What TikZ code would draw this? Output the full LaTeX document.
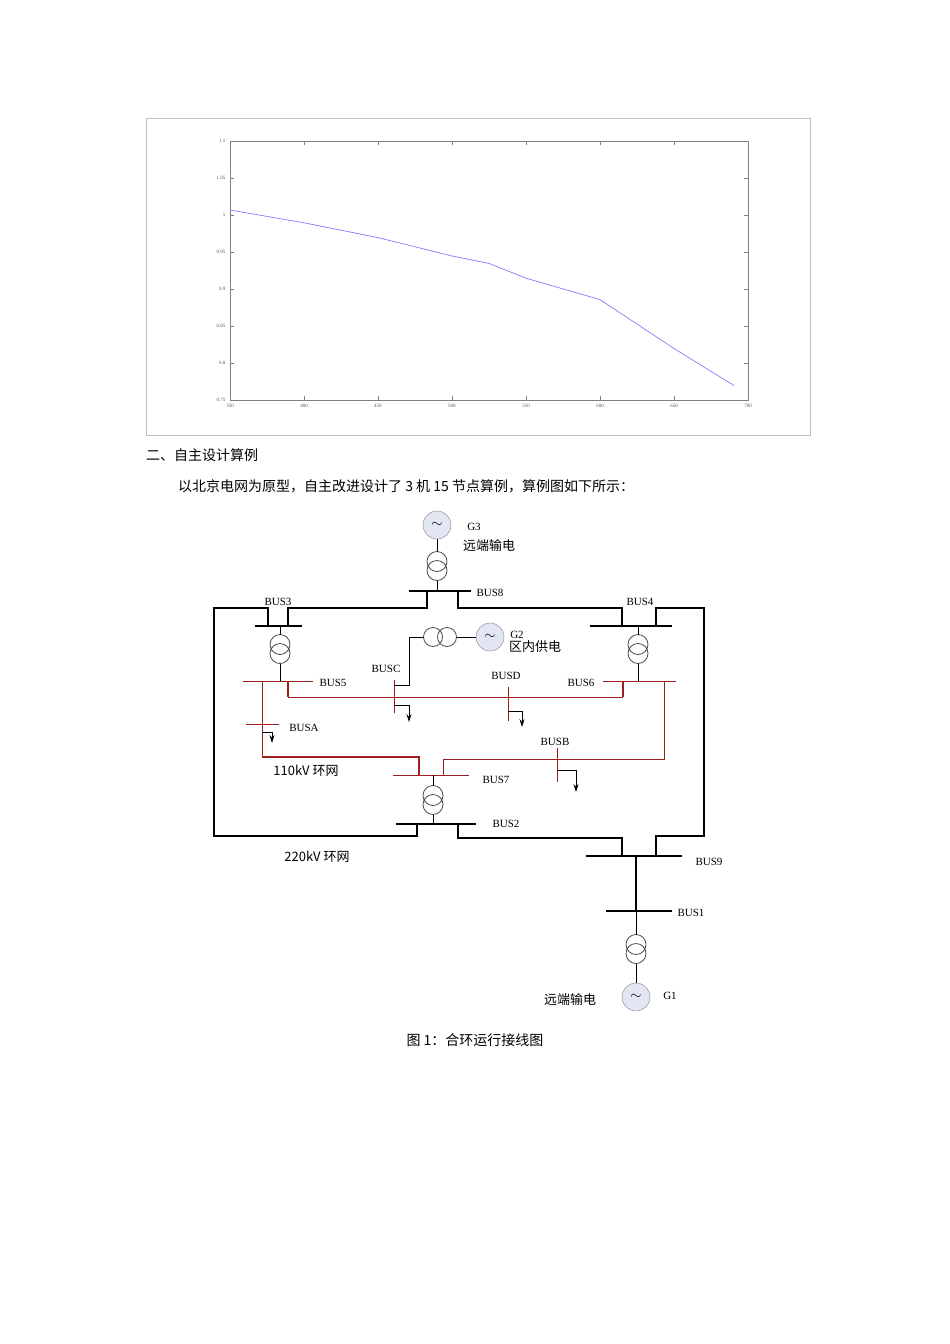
\documentclass[tikz,border=0pt]{standalone}
\usepackage{fontspec}
\setmainfont{Liberation Serif}
\newfontfamily\cjk{Noto Sans CJK SC}
\usetikzlibrary{arrows.meta}
\definecolor{dred}{RGB}{160,30,30}
\definecolor{gfill}{RGB}{225,230,242}
\tikzset{
 thickw/.style={line width=2.2pt,black},
 bar/.style={line width=2.4pt,black},
 rbar/.style={line width=1pt,dred},
 rline/.style={line width=1pt,dred},
 thin/.style={line width=0.8pt,black},
 gen/.style={circle,draw=gray,fill=gfill,minimum size=28pt,inner sep=0pt,font=\Large},
 lbl/.style={font=\fontsize{11}{11}\selectfont,inner sep=1pt},
 clbl/.style={font=\cjk\fontsize{13}{13}\selectfont,inner sep=1pt},
 ld/.style={thin,-{Stealth[length=8pt,width=5pt]}},
}
\begin{document}
\begin{tikzpicture}[x=1pt,y=-1pt]
\fill[white] (0,0) rectangle (950,1344);
\useasboundingbox (0,0) rectangle (950,1344);
% plot
\draw[gray!50] (146,118) rectangle (810,435);
\draw[gray,line width=0.5pt] (230,141) rectangle (748,400);
\foreach \v in {350,400,450,500,550,600,650,700}{
  \pgfmathsetmacro{\xx}{230+(\v-350)/350*518}
  \draw[gray] (\xx,400)--(\xx,396) (\xx,141)--(\xx,145);
  \node[font=\fontsize{5}{5}\selectfont,gray!70!black] at (\xx,406) {\v};}
\foreach \v in {1.1,1.05,1,0.95,0.9,0.85,0.8,0.75}{
  \pgfmathsetmacro{\yy}{400-(\v-0.75)/0.35*259}
  \draw[gray] (230,\yy)--(234,\yy) (748,\yy)--(744,\yy);
  \node[font=\fontsize{5}{5}\selectfont,gray!70!black,anchor=east] at (229,\yy) {\v};}
\draw[blue!50,line width=0.7pt] plot coordinates {(230,210)(304,222.8)(378,237.6)(452,256)(489,263.4)(526,278.2)(600,299.6)(674,348.5)(734,385.5)};
% texts
\node[anchor=west,font=\cjk\fontsize{14}{14}\selectfont,inner sep=0] at (146,455) {二、自主设计算例};
\node[anchor=west,font=\cjk\fontsize{14}{14}\selectfont,inner sep=0] at (178,486) {以北京电网为原型，自主改进设计了 3 机 15 节点算例，算例图如下所示：};
\node[font=\cjk\fontsize{14}{14}\selectfont,inner sep=0] at (475,1040) {图 1：合环运行接线图};
% generators and transformers
\node[gen] (g3) at (437,525) {$\sim$};
\node[gen] (g2) at (490,637) {$\sim$};
\node[gen] (g1) at (636,997) {$\sim$};
\foreach \n/\x/\y in {t3/437/566,tb3/280/649,tb4/638/649,t7/433/800,t1/636/949}{
  \draw[gray!60!black,line width=0.8pt] (\x,\y-4.5) circle (10) (\x,\y+4.5) circle (10);
  \coordinate (\n-top) at (\x,\y-14.5); \coordinate (\n-bot) at (\x,\y+14.5);}
\draw[gray!60!black,line width=0.8pt] (433,637) circle (9.5) (447,637) circle (9.5);
\coordinate (t2l) at (423.5,637); \coordinate (t2r) at (456.5,637);
% buses
\draw[bar] (409,591) -- (471,591);
\draw[bar] (255,626) -- (302,626);
\draw[bar] (590,626) -- (672,626);
\draw[bar] (396,824) -- (476,824);
\draw[bar] (586,856) -- (682,856);
\draw[bar] (606,911) -- (672,911);
\draw[rbar] (243,681) -- (313,681);
\draw[rbar] (603,681) -- (676,681);
\draw[rbar] (393,775) -- (469,775);
\draw[rbar] (246,724) -- (279,724);
\draw[rbar] (394,680) -- (394,713);
\draw[rbar] (508,687) -- (508,721);
\draw[rbar] (557,748) -- (557,782);
% 220kV lines
\draw[thickw] (427,591)--(427,608)--(288,608)--(288,626);
\draw[thickw] (458,591)--(458,608)--(622,608)--(622,626);
\draw[thickw] (268,626)--(268,608)--(214,608)--(214,836)--(417,836)--(417,824);
\draw[thickw] (656,626)--(656,608)--(704,608)--(704,836)--(656,836)--(656,856);
\draw[thickw] (458,824)--(458,838)--(622,838)--(622,856);
\draw[line width=2.8pt] (636,856)--(636,911);
% thin connections
\draw[gray!60!black,thin] (g3) -- (t3-top) (t3-bot) -- (437,591);
\draw[gray!60!black,thin] (280,626)--(tb3-top) (tb3-bot)--(280,681);
\draw[gray!60!black,thin] (638,626)--(tb4-top) (tb4-bot)--(638,681);
\draw[gray!60!black,thin] (433,775)--(t7-top) (t7-bot)--(433,824);
\draw[gray!60!black,thin] (636,911)--(t1-top) (t1-bot)--(g1);
\draw[gray!70,thin] (t2r)--(g2);
\draw[thin] (394,685)--(409,685)--(409,637)--(t2l);
% 110kV lines
\draw[line width=1.6pt,dred] (288,681)--(288,697);
\draw[rline] (288,697)--(623,697);
\draw[line width=1.6pt,dred] (623,697)--(623,681);
\draw[rline] (262,681)--(262,757);
\draw[line width=1.6pt,dred] (262,757)--(419,757)--(419,775);
\draw[rline] (443,775)--(443,759)--(664,759)--(664,681);
% loads
\draw[ld] (394,705)--(409,705)--(409,722);
\draw[ld] (508,711)--(522,711)--(522,727);
\draw[ld] (262,732)--(272,732)--(272,743);
\draw[ld] (557,770)--(576,770)--(576,792);
% labels
\node[lbl] at (474,527) {G3};
\node[clbl] at (489,546) {远端输电};
\node[lbl] at (490,593) {BUS8};
\node[lbl] at (278,602) {BUS3};
\node[lbl] at (640,602) {BUS4};
\node[lbl] at (517,635) {G2};
\node[clbl] at (535,647) {区内供电};
\node[lbl] at (386,669) {BUSC};
\node[lbl] at (333,683) {BUS5};
\node[lbl] at (506,676) {BUSD};
\node[lbl] at (581,683) {BUS6};
\node[lbl] at (304,728) {BUSA};
\node[lbl] at (555,742) {BUSB};
\node[clbl] at (306,771) {110kV 环网};
\node[lbl] at (496,780) {BUS7};
\node[lbl] at (506,824) {BUS2};
\node[clbl] at (317,857) {220kV 环网};
\node[lbl] at (709,862) {BUS9};
\node[lbl] at (691,913) {BUS1};
\node[clbl] at (570,1000) {远端输电};
\node[lbl] at (670,996) {G1};
\end{tikzpicture}
\end{document}
